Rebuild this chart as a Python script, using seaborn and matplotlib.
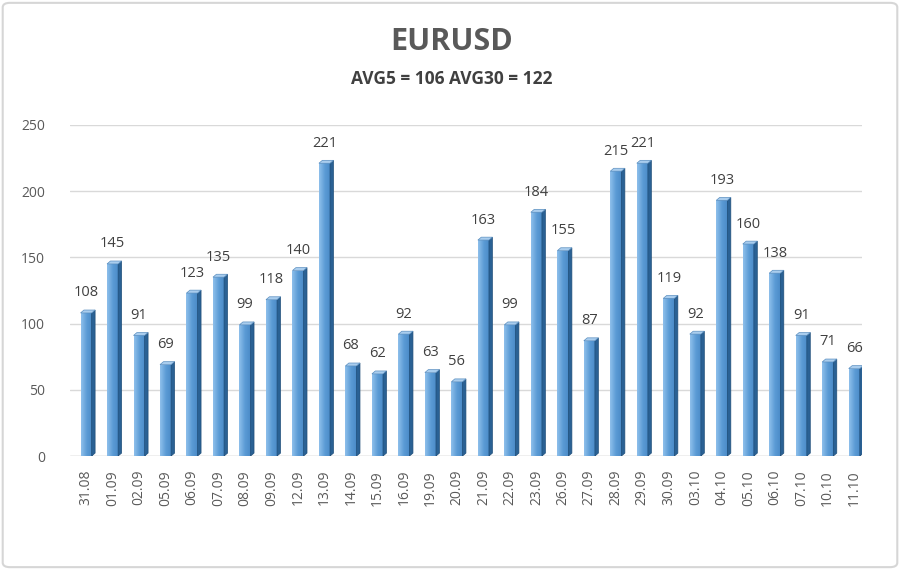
import matplotlib
matplotlib.use("Agg")
import matplotlib.pyplot as plt
import seaborn as sns
import numpy as np
import pandas as pd
from matplotlib.patches import Polygon, FancyBboxPatch
from matplotlib.colors import LinearSegmentedColormap

dates = ["31.08", "01.09", "02.09", "05.09", "06.09", "07.09", "08.09", "09.09",
         "12.09", "13.09", "14.09", "15.09", "16.09", "19.09", "20.09", "21.09",
         "22.09", "23.09", "26.09", "27.09", "28.09", "29.09", "30.09", "03.10",
         "04.10", "05.10", "06.10", "07.10", "10.10", "11.10"]
values = [108, 145, 91, 69, 123, 135, 99, 118, 140, 221, 68, 62, 92, 63, 56, 163,
          99, 184, 155, 87, 215, 221, 119, 92, 193, 160, 138, 91, 71, 66]
title = "EURUSD"
subtitle = "AVG5 = 106 AVG30 = 122"
yticks = [0, 50, 100, 150, 200, 250]

sns.set_theme(style="white")
plt.rcParams['font.family'] = ['Open Sans', 'DejaVu Sans']

df = pd.DataFrame({"date": dates, "value": values})

fig = plt.figure(figsize=(9, 5.7), dpi=100)
ax = fig.add_axes([0.078, 0.2, 0.88, 0.581])

sns.barplot(data=df, x="date", y="value", ax=ax, width=0.42,
            color="#5b9bd5", edgecolor="none", linewidth=0, saturation=1)

ax.set_yticks(yticks)
ax.yaxis.grid(True, color="#d9d9d9", linewidth=1)
ax.set_axisbelow(True)
for s in ax.spines.values():
    s.set_visible(False)
ax.axhline(0, color="#d0d0d0", linewidth=1, zorder=1)

ax.set_xlabel("")
ax.set_ylabel("")
ax.tick_params(axis="x", rotation=90, labelsize=10, colors="#595959", length=0, pad=10)
ax.tick_params(axis="y", labelsize=10, colors="#595959", length=0, pad=18)

grad = np.linspace(0, 1, 64).reshape(1, -1)
cmap = LinearSegmentedColormap.from_list("b", ["#8fc0ec", "#5b9bd5", "#4a89c6"])

dx = 0.13
dy = 2.2
for p, v in zip(ax.patches, values):
    x0 = p.get_x()
    w = p.get_width()
    h = p.get_height()
    x1 = x0 + w
    im = ax.imshow(grad, extent=[x0, x1, 0, h], aspect="auto", cmap=cmap,
                   zorder=3, interpolation="bicubic")
    im.set_clip_path(p)
    side = Polygon([(x1, 0), (x1 + dx, dy), (x1 + dx, h + dy), (x1, h)],
                   closed=True, facecolor="#2a6194", edgecolor="#1f4e79",
                   linewidth=0.5, zorder=3)
    top = Polygon([(x0, h), (x1, h), (x1 + dx, h + dy), (x0 + dx, h + dy)],
                  closed=True, facecolor="#a9cdee", edgecolor="#5b8fc0",
                  linewidth=0.5, zorder=3)
    ax.add_patch(side)
    ax.add_patch(top)
    ax.annotate(str(v), (x0 + w / 2, h), xytext=(0, 9), textcoords="offset points",
                ha="center", va="bottom", fontsize=10.5, color="#404040")

ax.set_xlim(-0.6, len(dates) - 0.7)
ax.set_ylim(0, 250)

fig.text(0.502, 0.926, title, ha="center", va="center", fontsize=22,
         fontweight="bold", color="#595959")
fig.text(0.502, 0.862, subtitle, ha="center", va="center", fontsize=12.5,
         fontweight="bold", color="#404040")

border = FancyBboxPatch((0.003, 0.005), 0.994, 0.99, boxstyle="round,pad=0,rounding_size=0.008",
                        transform=fig.transFigure, facecolor="none",
                        edgecolor="#d6d6d6", linewidth=1.5)
fig.patches.append(border)

fig.savefig("out.png", dpi=100)
